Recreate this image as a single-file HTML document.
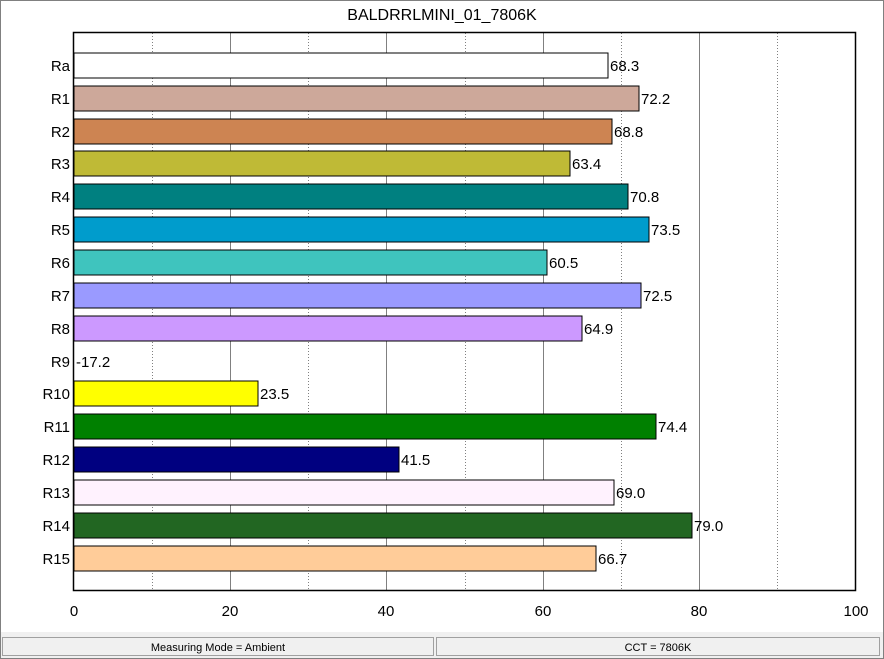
<!DOCTYPE html>
<html><head><style>
html,body{margin:0;padding:0;background:#fff;}
svg{display:block;font-family:"Liberation Sans",Arial,sans-serif;}
</style></head><body>
<svg width="884" height="659" viewBox="0 0 884 659" xmlns="http://www.w3.org/2000/svg">
<rect x="0.5" y="0.5" width="883" height="658" fill="#fff" stroke="#808080"/>
<rect x="1" y="632" width="882" height="26" fill="#f0f0f0"/>
<rect x="2.5" y="637.5" width="431" height="18" fill="#f0f0f0" stroke="#a0a0a0"/>
<rect x="436.5" y="637.5" width="443" height="18" fill="#f0f0f0" stroke="#a0a0a0"/>
<text x="218" y="651" font-size="11" text-anchor="middle" fill="#000">Measuring Mode = Ambient</text>
<text x="658" y="651" font-size="11" text-anchor="middle" fill="#000">CCT = 7806K</text>
<text x="442" y="20" font-size="16" text-anchor="middle" fill="#000">BALDRRLMINI_01_7806K</text>
<g stroke="#808080" stroke-width="1">
<line x1="230.5" y1="33" x2="230.5" y2="590"/>
<line x1="386.5" y1="33" x2="386.5" y2="590"/>
<line x1="543.5" y1="33" x2="543.5" y2="590"/>
<line x1="699.5" y1="33" x2="699.5" y2="590"/>
</g>
<g stroke="#808080" stroke-width="1" stroke-dasharray="1,2">
<line x1="152.5" y1="33" x2="152.5" y2="590"/>
<line x1="308.5" y1="33" x2="308.5" y2="590"/>
<line x1="465.5" y1="33" x2="465.5" y2="590"/>
<line x1="621.5" y1="33" x2="621.5" y2="590"/>
<line x1="777.5" y1="33" x2="777.5" y2="590"/>
</g>
<rect x="73.5" y="32.5" width="782" height="558" fill="none" stroke="#000" stroke-width="1.5"/>
<g stroke="#000" stroke-width="1">
<rect x="74" y="53" width="534" height="25" fill="#ffffff"/>
<rect x="74" y="86" width="565" height="25" fill="#cda89a"/>
<rect x="74" y="119" width="538" height="25" fill="#cd8452"/>
<rect x="74" y="151" width="496" height="25" fill="#bfba36"/>
<rect x="74" y="184" width="554" height="25" fill="#008080"/>
<rect x="74" y="217" width="575" height="25" fill="#009ccc"/>
<rect x="74" y="250" width="473" height="25" fill="#3fc4be"/>
<rect x="74" y="283" width="567" height="25" fill="#9a9aff"/>
<rect x="74" y="316" width="508" height="25" fill="#cc99ff"/>
<rect x="74" y="381" width="184" height="25" fill="#ffff00"/>
<rect x="74" y="414" width="582" height="25" fill="#008000"/>
<rect x="74" y="447" width="325" height="25" fill="#000080"/>
<rect x="74" y="480" width="540" height="25" fill="#fff2fe"/>
<rect x="74" y="513" width="618" height="25" fill="#226622"/>
<rect x="74" y="546" width="522" height="25" fill="#ffcc99"/>
</g>
<g font-size="15" fill="#000" text-anchor="end">
<text x="70" y="71">Ra</text><text x="70" y="104">R1</text><text x="70" y="137">R2</text>
<text x="70" y="169">R3</text><text x="70" y="202">R4</text><text x="70" y="235">R5</text>
<text x="70" y="268">R6</text><text x="70" y="301">R7</text><text x="70" y="334">R8</text>
<text x="70" y="367">R9</text><text x="70" y="399">R10</text><text x="70" y="432">R11</text>
<text x="70" y="465">R12</text><text x="70" y="498">R13</text><text x="70" y="531">R14</text>
<text x="70" y="564">R15</text>
</g>
<g font-size="15" fill="#000">
<text x="610" y="71">68.3</text><text x="641" y="104">72.2</text><text x="614" y="137">68.8</text>
<text x="572" y="169">63.4</text><text x="630" y="202">70.8</text><text x="651" y="235">73.5</text>
<text x="549" y="268">60.5</text><text x="643" y="301">72.5</text><text x="584" y="334">64.9</text>
<text x="76" y="367">-17.2</text><text x="260" y="399">23.5</text><text x="658" y="432">74.4</text>
<text x="401" y="465">41.5</text><text x="616" y="498">69.0</text><text x="694" y="531">79.0</text>
<text x="598" y="564">66.7</text>
</g>
<g font-size="15" fill="#000" text-anchor="middle">
<text x="74" y="616">0</text><text x="230" y="616">20</text><text x="386" y="616">40</text>
<text x="543" y="616">60</text><text x="699" y="616">80</text><text x="856" y="616">100</text>
</g>
</svg>
</body></html>
